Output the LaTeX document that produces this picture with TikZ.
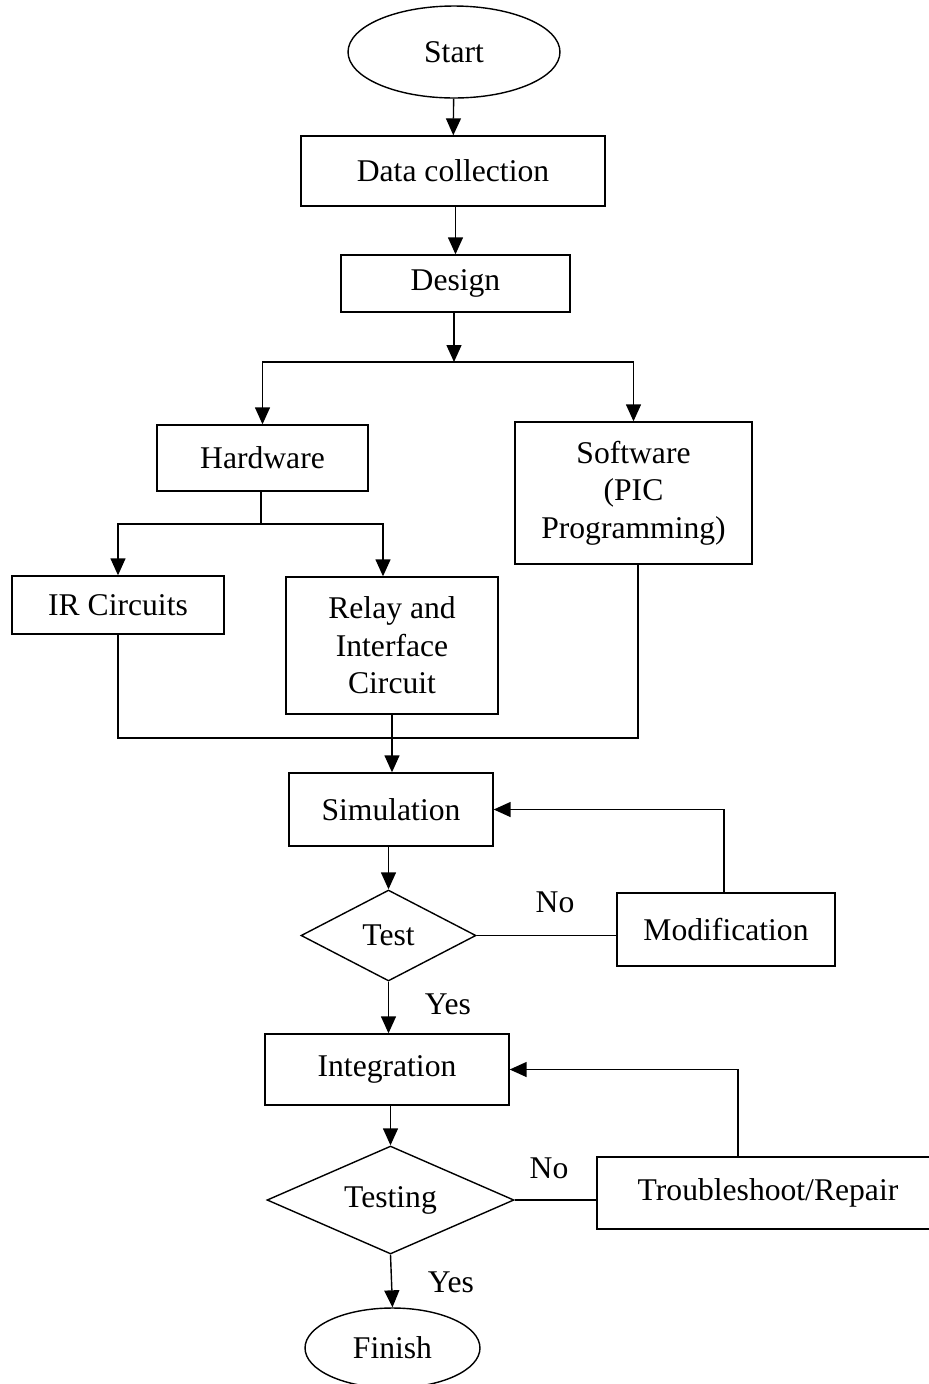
\documentclass[tikz,border=0pt]{standalone}
\usepackage{fontspec}
\setmainfont{Liberation Serif}
\usetikzlibrary{shapes,arrows,calc,arrows.meta}
\usetikzlibrary{positioning}

\begin{document}
\begin{tikzpicture}[x=0.02cm, y=-0.02cm, line width=0.8pt,
    >={Triangle[length=3.4mm, width=3mm]},
    every node/.style={font=\fontsize{18}{21.3}\selectfont, align=center},
    box/.style={draw, rectangle, inner sep=2pt},
    term/.style={draw, ellipse, inner sep=0pt},
    dec/.style={draw, diamond, inner sep=0pt, aspect=2.2}]
            \useasboundingbox (0,0) rectangle (929,1384);
            \draw (454,52) node[term, minimum width=4.24cm, minimum height=1.84cm] (start) {Start};
            \draw (453,171) node[box, minimum width=6.08cm, minimum height=1.4cm] (data) {Data collection};
            \draw (455.5,283.5) node[box, minimum width=4.58cm, minimum height=1.14cm] (design) {Design};
            \draw (262.5,458) node[box, minimum width=4.22cm, minimum height=1.32cm] (hw) {Hardware};
            \draw (633.5,493) node[box, minimum width=4.74cm, minimum height=2.84cm] (sw) {Software\\(PIC\\Programming)};
            \draw (118,605) node[box, minimum width=4.24cm, minimum height=1.16cm] (ir) {IR Circuits};
            \draw (392,645.5) node[box, minimum width=4.24cm, minimum height=2.74cm] (relay) {Relay and\\Interface\\Circuit};
            \draw (391,809.5) node[box, minimum width=4.08cm, minimum height=1.46cm] (sim) {Simulation};
            \draw (388.5,935.5) node[dec, minimum width=3.5cm, minimum height=1.82cm] (test) {Test};
            \draw (726,929.5) node[box, minimum width=4.36cm, minimum height=1.46cm] (mod) {Modification};
            \draw (387,1069.5) node[box, minimum width=4.88cm, minimum height=1.42cm] (integ) {Integration};
            \draw (390.5,1200) node[dec, aspect=2.4, minimum width=4.94cm, minimum height=2.16cm] (testing) {Testing};
            \draw (768,1193) node[box, minimum width=6.84cm, minimum height=1.44cm] (fix) {Troubleshoot/Repair};
            \draw (392.5,1348) node[term, minimum width=3.5cm, minimum height=1.6cm] (finish) {Finish};
            \coordinate (split) at (454,362);
            \coordinate (hsplit) at (261,524);
            \coordinate (join) at (392,738);
            % branches
            \path[->]
            (start) edge (data)
            (design.north |- data.south) edge (design.north)
            (design.south -| split) edge (split)
            (relay.south) edge (relay.south |- sim.north)
            (sim.south -| test.north) edge (test.north)
            (test.south) edge (test.south |- integ.north)
            (testing.north |- integ.south) edge (testing.north)
            (testing.south) edge (finish.north)
            ;
            \draw[->] (split) -| (hw);
            \draw[->] (split) -| (sw);
            \draw (hw.south -| hsplit) -- (hsplit);
            \draw[->] (hsplit) -| (ir.north);
            \draw[->] (hsplit) -| ([xshift=-0.18cm]relay.north);
            \draw (ir.south) -- (ir.south |- join) -- ([xshift=0.09cm]sw.south |- join) -- ([xshift=0.09cm]sw.south);
            % loops back
            \draw (test.east) -- (test.east -| mod.west);
            \draw[->] ([xshift=-0.04cm]mod.north) |- (sim.east);
            \draw (testing.east) -- (testing.east -| fix.west);
            \draw[->] ([xshift=-0.6cm]fix.north) |- (integ.east);
            % labels
            \draw (555,902) node (no1) {No};
            \draw (448,1004) node (yes1) {Yes};
            \draw (549,1168) node (no2) {No};
            \draw (451,1282) node (yes2) {Yes};
        \end{tikzpicture}
\end{document}
